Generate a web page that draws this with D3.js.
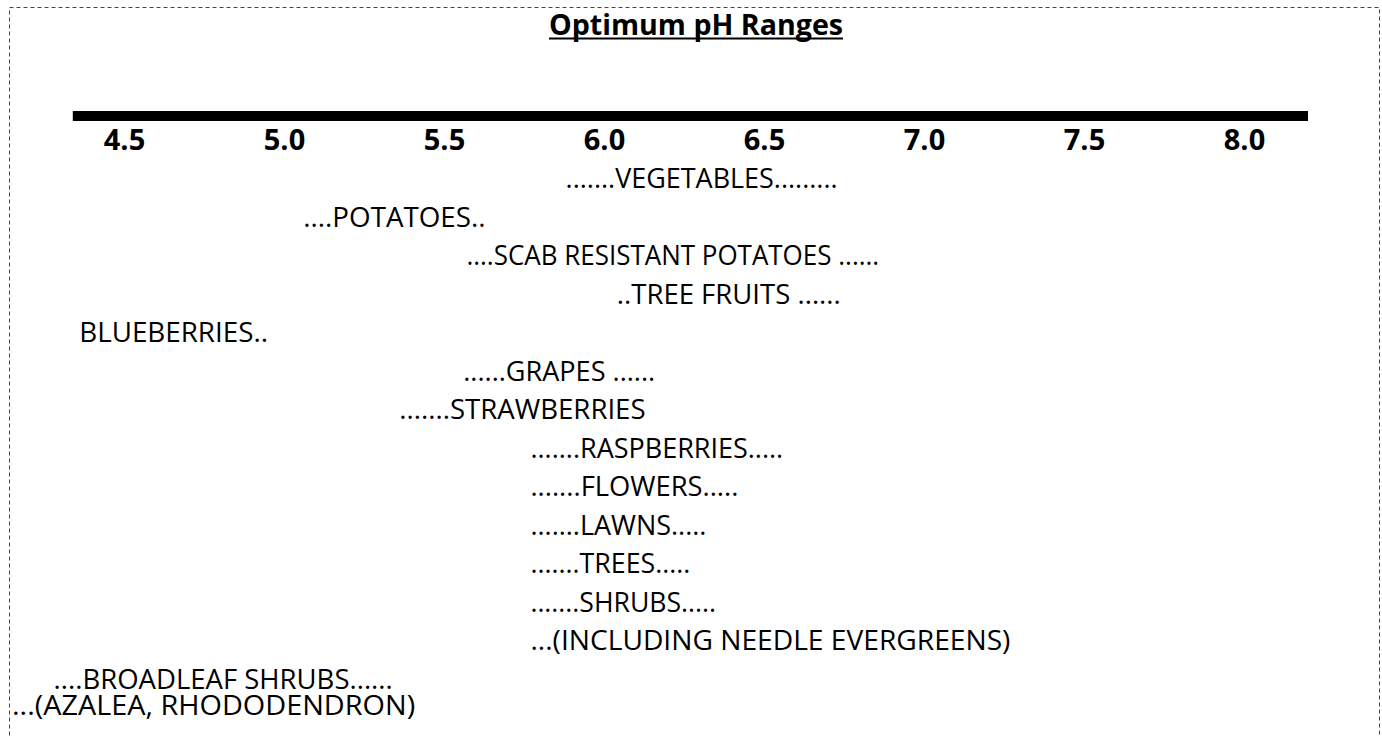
<!DOCTYPE html>
<html>
<head>
<meta charset="utf-8">
<script src="https://cdn.jsdelivr.net/npm/d3@7"></script>
<style>
  html, body { margin: 0; padding: 0; background: #fff; }
  svg { display: block; }
</style>
</head>
<body>
<div id="board"></div>
<script>
// chart data
var chartTitle = "Optimum pH Ranges";
var phTicks = [4.5, 5.0, 5.5, 6.0, 6.5, 7.0, 7.5, 8.0];
var tickLabels = ["4.5", "5.0", "5.5", "6.0", "6.5", "7.0", "7.5", "8.0"];
var ruleExtent = [4.34, 8.2];

var plantLabels = [
  ".......VEGETABLES.........",
  "....POTATOES..",
  "....SCAB RESISTANT POTATOES ......",
  "..TREE FRUITS ......",
  "BLUEBERRIES..",
  "......GRAPES ......",
  ".......STRAWBERRIES",
  ".......RASPBERRIES.....",
  ".......FLOWERS.....",
  ".......LAWNS.....",
  ".......TREES.....",
  ".......SHRUBS.....",
  "...(INCLUDING NEEDLE EVERGREENS)",
  "....BROADLEAF SHRUBS......",
  "...(AZALEA, RHODODENDRON)"
];
// pH where each label starts / ends on the scale
var rangeFrom = [5.88, 5.06, 5.57, 6.04, 4.36, 5.56, 5.36, 5.77, 5.77, 5.77, 5.77, 5.77, 5.77, 4.28, 4.15];
var rangeTo   = [6.73, 5.63, 6.86, 6.74, 4.95, 6.16, 6.13, 6.56, 6.42, 6.32, 6.27, 6.35, 7.27, 5.34, 5.41];
// text line each label sits on
var lineSlot  = [0, 1, 2, 3, 4, 5, 6, 7, 8, 9, 10, 11, 12, 13, 13.7];

var W = 1382, H = 736;
var font = "'Open Sans', 'Noto Sans', sans-serif";

var svg = d3.select("#board")
  .append("svg")
  .attr("width", W)
  .attr("height", H);

// dashed frame (bottom edge runs off the page)
svg.append("rect")
  .attr("x", 9.5)
  .attr("y", 7.5)
  .attr("width", 1370)
  .attr("height", 800)
  .style("fill", "none")
  .style("stroke", "#444")
  .style("stroke-width", 1)
  .style("stroke-dasharray", "4,3");

var x = d3.scaleLinear().domain([4.5, 8.0]).range([124, 1244]);
var y = d3.scaleLinear().domain([0, 12]).range([188, 650]);

// title
svg.append("text")
  .attr("x", 696)
  .attr("y", 35)
  .attr("text-anchor", "middle")
  .style("font-family", font)
  .style("font-weight", "bold")
  .style("font-size", "29px")
  .attr("textLength", 294)
  .attr("lengthAdjust", "spacingAndGlyphs")
  .text(chartTitle);

svg.append("line")
  .attr("x1", 696 - 147)
  .attr("x2", 696 + 147)
  .attr("y1", 38.5)
  .attr("y2", 38.5)
  .style("stroke", "#000")
  .style("stroke-width", 2);

// thick rule
svg.append("line")
  .attr("x1", x(ruleExtent[0]))
  .attr("x2", x(ruleExtent[1]))
  .attr("y1", 116)
  .attr("y2", 116)
  .style("stroke", "#000")
  .style("stroke-width", 10);

// tick labels
var axis = d3.axisBottom(x)
  .tickValues(phTicks)
  .tickSize(0)
  .tickFormat(function(d, i){ return tickLabels[i]; });

var gAxis = svg.append("g")
  .attr("transform", "translate(0,150)")
  .call(axis);

gAxis.select(".domain").remove();
gAxis.selectAll("text")
  .attr("y", 0)
  .attr("dy", null)
  .style("font-family", font)
  .style("font-weight", "bold")
  .style("font-size", "29px")
  .style("fill", "#000");

// plant rows
var rows = plantLabels.map(function(label, i){
  return {label: label, from: rangeFrom[i], to: rangeTo[i], slot: lineSlot[i]};
});

svg.selectAll("text.plant")
  .data(rows)
  .enter()
  .append("text")
  .attr("class", "plant")
  .attr("x", function(d){ return x(d.from); })
  .attr("y", function(d){ return y(d.slot); })
  .attr("textLength", function(d){ return x(d.to) - x(d.from); })
  .attr("lengthAdjust", "spacingAndGlyphs")
  .style("font-family", font)
  .style("font-size", "28px")
  .style("fill", "#000")
  .text(function(d){ return d.label; });
</script>
</body>
</html>
